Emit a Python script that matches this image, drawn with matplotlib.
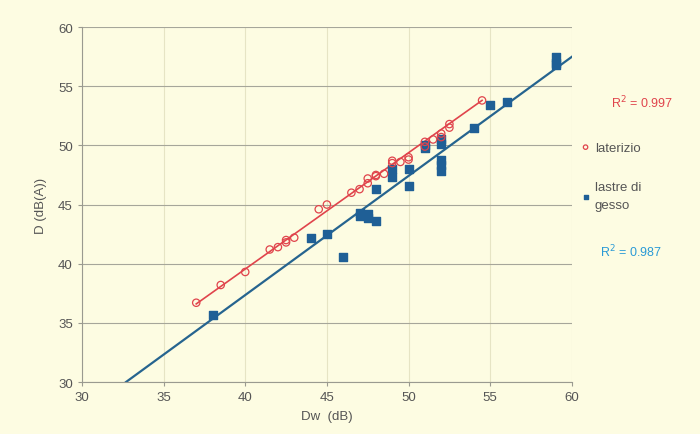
import matplotlib
matplotlib.use('Agg')
import matplotlib.pyplot as plt
import numpy as np

plt.rcParams['font.family'] = ['Liberation Sans', 'DejaVu Sans']

# laterizio (open red circles)
lat_dw = [37, 38.5, 40, 41.5, 42, 42.5, 42.5, 43, 44.5, 45, 46.5, 47, 47.5, 47.5,
          48, 48, 48.5, 49, 49, 49.5, 50, 50, 51, 51, 51.5, 52, 52, 52.5, 52.5, 54.5]
lat_d = [36.7, 38.2, 39.3, 41.2, 41.4, 41.8, 42.0, 42.2, 44.6, 45.0, 46.0, 46.3, 46.8, 47.2,
         47.4, 47.5, 47.6, 48.5, 48.7, 48.6, 48.8, 49.0, 49.9, 50.3, 50.5, 50.7, 51.0, 51.5, 51.8, 53.8]

# lastre di gesso (blue squares)
gess_dw = [38, 44, 45, 46, 47, 47, 47.5, 47.5, 48, 48, 49, 49, 50, 50, 51, 51,
           52, 52, 52, 52, 52, 54, 55, 56, 59, 59, 59]
gess_d = [35.7, 42.2, 42.5, 40.6, 44.0, 44.3, 44.2, 43.9, 43.6, 46.3, 48.0, 47.3, 48.0, 46.6, 49.8, 50.0,
          50.5, 50.1, 48.8, 48.3, 47.8, 51.5, 53.4, 53.7, 57.5, 57.0, 56.8]

# trend lines as drawn in the original (slope, intercept, x range)
lat_fit = (0.983, 0.23)
lat_range = (37, 54.5)
gess_fit = (1.007, -2.93)
gess_range = (32.7, 60)

bg = '#fdfce2'
red = '#e0444c'
blue = '#1f5f96'
blue_line = '#26648f'
blue_txt = '#2a9ad6'
grey = '#555555'

fig = plt.figure(figsize=(7, 4.35), dpi=100, facecolor=bg)
ax = fig.add_axes([0.117, 0.1195, 0.7, 0.816])
ax.set_facecolor(bg)

xr = np.array(gess_range)
ax.plot(xr, gess_fit[0] * xr + gess_fit[1], color=blue_line, lw=1.6, zorder=2)
xl = np.array(lat_range)
ax.plot(xl, lat_fit[0] * xl + lat_fit[1], color=red, lw=1.2, zorder=2)

ax.scatter(gess_dw, gess_d, marker='s', s=30, color=blue, zorder=3, label='lastre di\ngesso')
ax.scatter(lat_dw, lat_d, marker='o', s=28, facecolors='none', edgecolors=red, lw=0.9,
           zorder=4, label='laterizio')

ax.set_xlim(30, 60)
ax.set_ylim(30, 60)
ax.set_xticks(np.arange(30, 61, 5))
ax.set_yticks(np.arange(30, 61, 5))
ax.grid(axis='y', color='#a6a69a', lw=0.8)
ax.grid(axis='x', color='#e6e4c4', lw=0.8)
for s in ['top', 'right']:
    ax.spines[s].set_visible(False)
for s in ['left', 'bottom']:
    ax.spines[s].set_color('#9a9a90')
ax.tick_params(colors='#9a9a90', labelcolor=grey, labelsize=9.5, length=3)
ax.set_xlabel('Dw  (dB)', fontsize=9.5, color=grey, labelpad=5)
ax.set_ylabel('D (dB(A))', fontsize=9.5, color=grey, labelpad=8)

h, l = ax.get_legend_handles_labels()
leg = fig.legend(h[::-1], l[::-1], loc='upper left', bbox_to_anchor=(0.812, 0.70), frameon=False,
                 fontsize=9.5, labelcolor=grey, handletextpad=0.3, labelspacing=2.1,
                 handlelength=0.8, markerscale=0.6)
leg.get_texts()[1].set_linespacing(1.6)

fig.text(0.873, 0.763, 'R$^2$ = 0.997', color=red, fontsize=9, ha='left', va='center')
fig.text(0.857, 0.42, 'R$^2$ = 0.987', color=blue_txt, fontsize=9, ha='left', va='center')

fig.savefig('out.png', dpi=100, facecolor=bg)
